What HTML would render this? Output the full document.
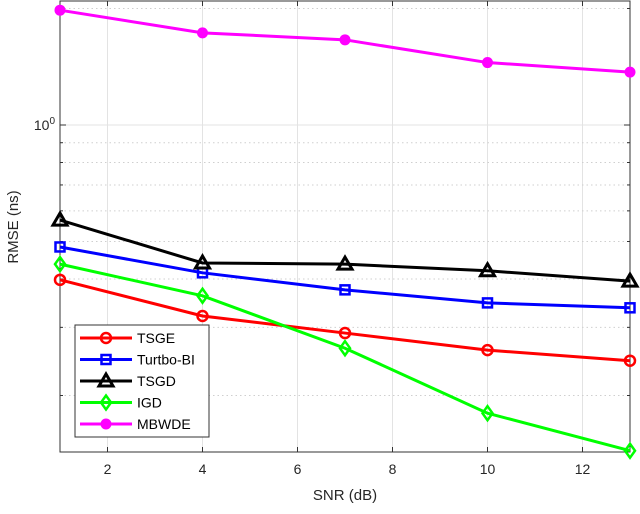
<!DOCTYPE html>
<html><head><meta charset="utf-8"><style>
body{margin:0;background:#fff;width:640px;height:509px;overflow:hidden}
svg{font-family:"Liberation Sans",sans-serif}
</style></head><body>
<svg id="c" width="640" height="509"></svg>
<script>
const snr=[1,4,7,10,13];
const tsge=[0.398,0.321,0.29,0.262,0.246];
const turbo=[0.484,0.415,0.375,0.347,0.337];
const tsgd=[0.568,0.44,0.437,0.42,0.395];
const igd=[0.437,0.362,0.265,0.18,0.144];
const mbwde=[1.98,1.73,1.66,1.45,1.37];
const xTicks=[2,4,6,8,10,12];
const yMinor=[0.2,0.3,0.4,0.5,0.6,0.7,0.8,0.9,2];
const L=60,R=630,T=1,B=452,xmin=1,xmax=13,D=387,y1=125;
const X=v=>L+(v-xmin)/(xmax-xmin)*(R-L);
const Y=v=>y1-Math.log10(v)*D;
const s=document.getElementById('c');const NS='http://www.w3.org/2000/svg';
function mk(t,a,p){const e=document.createElementNS(NS,t);for(const k in a)e.setAttribute(k,a[k]);(p||s).appendChild(e);return e;}
const g=mk('g',{});


xTicks.forEach(v=>{mk('line',{x1:X(v),x2:X(v),y1:T,y2:B,stroke:'#e3e3e3'},g);mk('line',{x1:X(v),x2:X(v),y1:B,y2:B-5,stroke:'#333'},g);mk('line',{x1:X(v),x2:X(v),y1:T,y2:T+5,stroke:'#333'},g);
const t=mk('text',{x:X(v),y:474,'text-anchor':'middle','font-size':14,fill:'#262626'});t.textContent=v;

});
yMinor.forEach(v=>{const y=Y(v);if(y<T||y>B)return;mk('line',{x1:L,x2:R,y1:y,y2:y,stroke:'#cfcfcf','stroke-dasharray':'1.5 3'},g);mk('line',{x1:L,x2:L+3,y1:y,y2:y,stroke:'#333'},g);mk('line',{x1:R,x2:R-3,y1:y,y2:y,stroke:'#333'},g);});
mk('line',{x1:L,x2:R,y1:Y(1),y2:Y(1),stroke:'#e3e3e3'},g);
mk('line',{x1:L,x2:L+6,y1:Y(1),y2:Y(1),stroke:'#333'},g);mk('line',{x1:R,x2:R-6,y1:Y(1),y2:Y(1),stroke:'#333'},g);
const f=mk('rect',{x:L,y:T,width:R-L,height:B-T,fill:'none',stroke:'#333'});


const yl=mk('text',{x:55,y:130,'text-anchor':'end','font-size':14,fill:'#262626'});yl.innerHTML='10<tspan dy="-6" font-size="10">0</tspan>';


const xt=mk('text',{x:345,y:500,'text-anchor':'middle','font-size':15,fill:'#262626'});xt.textContent='SNR (dB)';


const yt=mk('text',{x:0,y:0,'text-anchor':'middle','font-size':15,fill:'#262626',transform:'translate(18,227) rotate(-90)'});yt.textContent='RMSE (ns)';


function marker(p,type,c,x,y){
 if(type==='o')mk('circle',{cx:x,cy:y,r:5,fill:'none',stroke:c,'stroke-width':2.5},p);
 if(type==='s')mk('rect',{x:x-4.5,y:y-4.5,width:9,height:9,fill:'none',stroke:c,'stroke-width':2.5},p);
 if(type==='^')mk('path',{d:`M${x},${y-7}L${x+7},${y+5}L${x-7},${y+5}Z`,fill:'none',stroke:c,'stroke-width':3},p);
 if(type==='d')mk('path',{d:`M${x},${y-7}L${x+5},${y}L${x},${y+7}L${x-5},${y}Z`,fill:'none',stroke:c,'stroke-width':2.5},p);
 if(type==='f')mk('circle',{cx:x,cy:y,r:5.5,fill:c},p);
}
const series=[['TSGE',tsge,'#ff0000','o'],['Turtbo-BI',turbo,'#0000ff','s'],['TSGD',tsgd,'#000000','^'],['IGD',igd,'#00ff00','d'],['MBWDE',mbwde,'#ff00ff','f']];
series.forEach(([n,d,c,m])=>{const p=mk('g',{});


mk('polyline',{points:d.map((v,i)=>X(snr[i])+','+Y(v)).join(' '),fill:'none',stroke:c,'stroke-width':3},p);
d.forEach((v,i)=>marker(p,m,c,X(snr[i]),Y(v)));});
const lg=mk('g',{});


mk('rect',{x:75,y:325,width:134,height:112,fill:'#fff',stroke:'#333'},lg);
series.forEach(([n,d,c,m],i)=>{const y=338+i*21.5;const e=mk('g',{},lg);


mk('line',{x1:80,x2:132,y1:y,y2:y,stroke:c,'stroke-width':3},e);marker(e,m,c,106,y);
const t=mk('text',{x:137,y:y+5,'font-size':14,fill:'#000'},e);t.textContent=n;});
</script>
</body></html>
